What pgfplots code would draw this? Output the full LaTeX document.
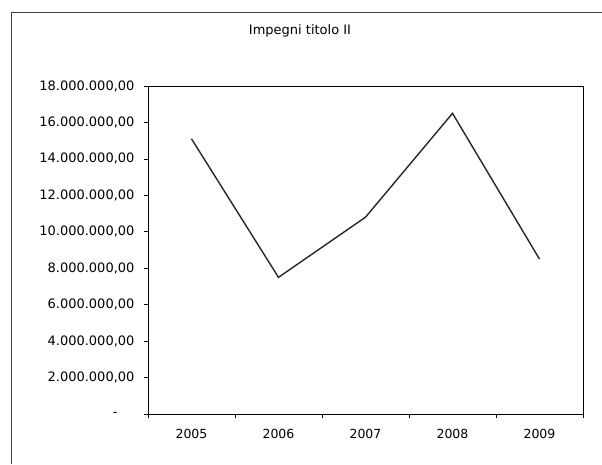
\documentclass[border=0pt]{standalone}
\usepackage{pgfplots}
\pgfplotsset{compat=1.18}
\usepackage{fontspec}
\setmainfont{DejaVu Sans}
\begin{document}
\begin{tikzpicture}
\path[use as bounding box] (0,0) rectangle (602pt,464pt);
% outer chart frame (left and top edges)
\draw[line width=0.8pt, black!75] (11pt,0pt) -- (11pt,452pt) -- (602pt,452pt);
\node[font=\fontsize{13}{15}\selectfont] at (300pt,433pt) {Impegni titolo II};
\begin{axis}[
  at={(148pt,50pt)}, anchor=south west,
  width=435pt, height=328pt, scale only axis,
  xmin=-0.5, xmax=4.5, ymin=0, ymax=18000000,
  xtick={0,1,2,3,4},
  xticklabels={2005,2006,2007,2008,2009},
  minor xtick={-0.5,0.5,1.5,2.5,3.5,4.5},
  major x tick style={draw=none},
  minor tick length=4pt,
  xtick pos=bottom, ytick pos=left,
  ytick={0,2000000,4000000,6000000,8000000,10000000,12000000,14000000,16000000,18000000},
  yticklabels={{-\kern17pt\mbox{}},{2.000.000,00},{4.000.000,00},{6.000.000,00},{8.000.000,00},{10.000.000,00},{12.000.000,00},{14.000.000,00},{16.000.000,00},{18.000.000,00}},
  scaled y ticks=false,
  tick align=outside,
  major tick length=4pt,
  tick style={black, line width=0.6pt},
  axis line style={black, line width=0.8pt},
  xticklabel style={font=\fontsize{12.5}{14}\selectfont, yshift=-8pt},
  yticklabel style={font=\fontsize{13}{15}\selectfont, xshift=-6pt},
  clip=false,
]
\addplot[black!85, line width=1.4pt] coordinates {
  (0,15100000) (1,7500000) (2,10800000) (3,16500000) (4,8500000)
};
\end{axis}
\end{tikzpicture}
\end{document}
